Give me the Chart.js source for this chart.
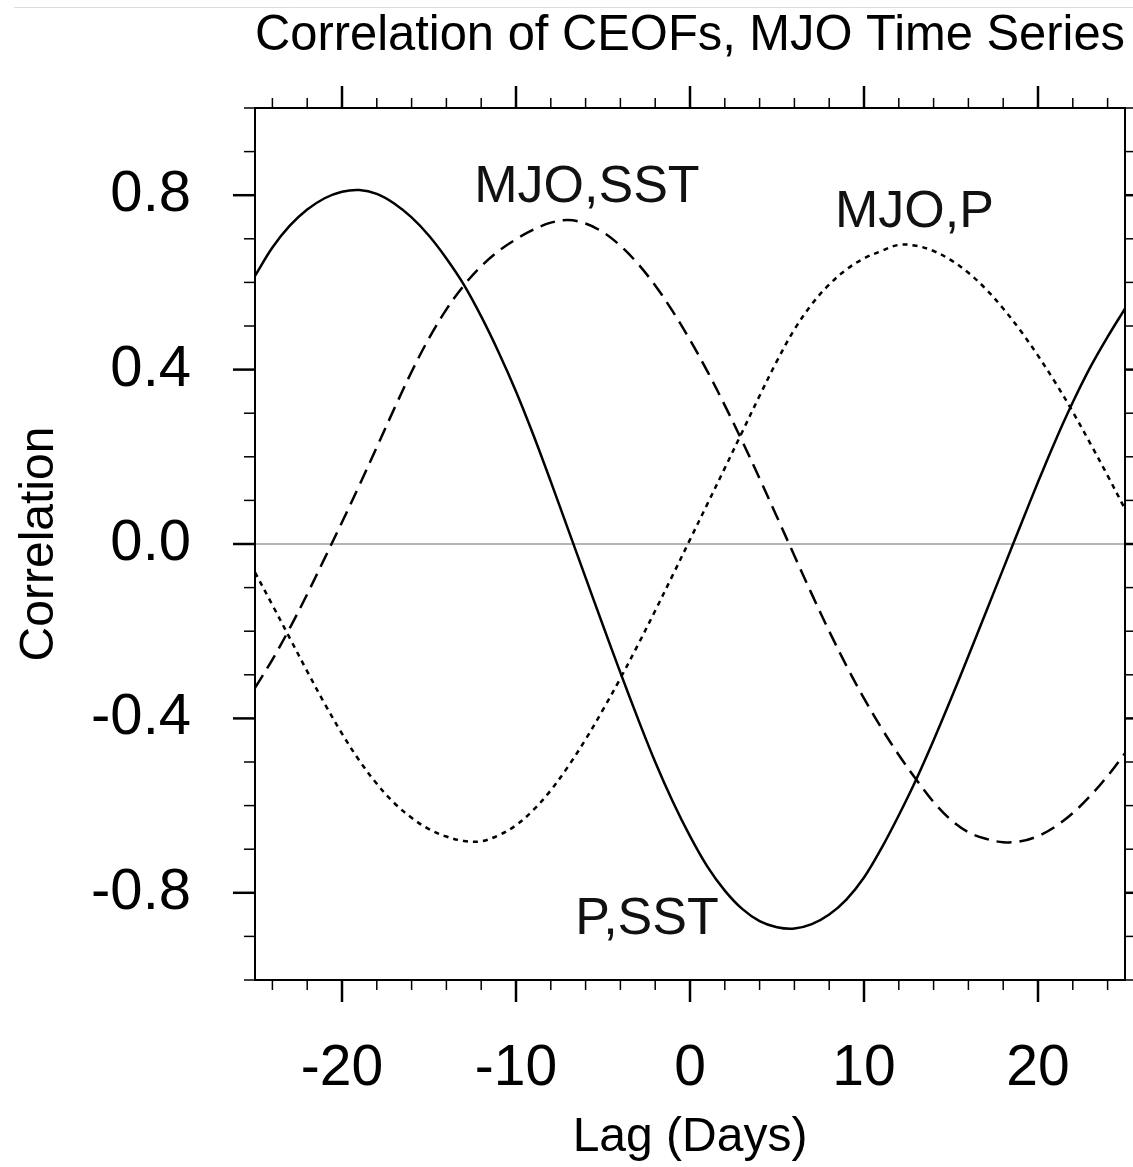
<!DOCTYPE html>
<html>
<head>
<meta charset="utf-8">
<title>Correlation of CEOFs, MJO Time Series</title>
<script src="https://cdn.jsdelivr.net/npm/chart.js@4.4.1/dist/chart.umd.min.js"></script>
<style>
  html, body { margin: 0; padding: 0; background: #fff; }
  #wrap { width: 1133px; height: 1167px; }
</style>
</head>
<body>
<div id="wrap"><canvas id="corr" width="1133" height="1167"></canvas></div>
<script>
// lag in days
const lags = [-25, -24, -23, -22, -21, -20, -19, -18, -17, -16, -15, -14, -13, -12, -11, -10, -9, -8, -7, -6, -5, -4, -3, -2, -1,
  0, 1, 2, 3, 4, 5, 6, 7, 8, 9, 10, 11, 12, 13, 14, 15, 16, 17, 18, 19, 20, 21, 22, 23, 24, 25];

// P,SST correlation (solid)
const pSst = [0.615, 0.68, 0.73, 0.767, 0.793, 0.808, 0.812, 0.803, 0.781, 0.749, 0.707, 0.655, 0.595, 0.522, 0.44, 0.35, 0.25, 0.143, 0.033, -0.077,
  -0.187, -0.295, -0.40, -0.50, -0.59, -0.67, -0.74, -0.795, -0.837, -0.865, -0.879, -0.882, -0.872, -0.85, -0.815, -0.765, -0.698, -0.622, -0.54, -0.45,
  -0.355, -0.257, -0.157, -0.057, 0.043, 0.142, 0.237, 0.325, 0.405, 0.475, 0.54];

// MJO,SST correlation (dashed)
const mjoSst = [-0.33, -0.265, -0.193, -0.115, -0.033, 0.05, 0.135, 0.222, 0.31, 0.395, 0.472, 0.538, 0.593, 0.637, 0.672, 0.699, 0.721, 0.737, 0.743, 0.735,
  0.715, 0.684, 0.643, 0.593, 0.534, 0.468, 0.396, 0.318, 0.236, 0.15, 0.062, -0.027, -0.115, -0.20, -0.28, -0.354, -0.422, -0.484, -0.54, -0.592,
  -0.633, -0.661, -0.676, -0.684, -0.682, -0.67, -0.648, -0.617, -0.578, -0.532, -0.48];

// MJO,P correlation (dotted)
const mjoP = [-0.065, -0.14, -0.216, -0.292, -0.366, -0.435, -0.497, -0.55, -0.594, -0.628, -0.654, -0.671, -0.681, -0.682, -0.668, -0.645, -0.61, -0.565, -0.51, -0.448,
  -0.38, -0.308, -0.232, -0.153, -0.072, 0.01, 0.092, 0.174, 0.257, 0.34, 0.42, 0.492, 0.55, 0.595, 0.63, 0.655, 0.672, 0.686, 0.684, 0.672,
  0.651, 0.622, 0.585, 0.54, 0.489, 0.432, 0.37, 0.303, 0.231, 0.157, 0.08];

const xTickLabels = [-20, -10, 0, 10, 20];
const yTickLabels = [-0.8, -0.4, 0, 0.4, 0.8];

// curve names written inside the plot
const curveLabels = [
  { text: 'MJO,SST', x: -12.4, y: 0.784 },
  { text: 'MJO,P', x: 8.33, y: 0.726 },
  { text: 'P,SST', x: -6.6, y: -0.894 }
];

const FONT = "'Liberation Sans', Arial, Helvetica, sans-serif";

function series(vals) {
  return lags.map((x, i) => ({ x: x, y: vals[i] }));
}

// box around the plot with outward major/minor ticks on every side
const frame = {
  id: 'frame',
  afterDatasetsDraw(chart) {
    const { ctx, chartArea: a, scales } = chart;
    const xs = scales.x, ys = scales.y;
    ctx.save();
    ctx.strokeStyle = '#000';
    ctx.lineCap = 'butt';

    const tick = (x1, y1, x2, y2, w) => {
      ctx.lineWidth = w;
      ctx.beginPath();
      ctx.moveTo(x1, y1);
      ctx.lineTo(x2, y2);
      ctx.stroke();
    };

    for (let v = -24; v <= 24; v += 2) {
      const major = v % 10 === 0;
      const px = xs.getPixelForValue(v);
      const len = major ? 22 : 10;
      const w = major ? 2.5 : 1.5;
      tick(px, a.bottom, px, a.bottom + len, w);
      tick(px, a.top, px, a.top - len, w);
    }
    for (let i = -10; i <= 10; i++) {
      const major = i % 4 === 0 && Math.abs(i) <= 8;
      const py = ys.getPixelForValue(i / 10);
      const len = major ? 22 : 11;
      const w = major ? 2.5 : 1.5;
      tick(a.left, py, a.left - len, py, w);
      tick(a.right, py, a.right + len, py, w);
    }

    ctx.lineWidth = 2;
    ctx.strokeRect(a.left, a.top, a.right - a.left, a.bottom - a.top);

    // faint page edge
    ctx.strokeStyle = '#dcdcdc';
    ctx.lineWidth = 1;
    ctx.beginPath();
    ctx.moveTo(14, 7.5);
    ctx.lineTo(chart.width, 7.5);
    ctx.stroke();
    ctx.restore();
  }
};

const curveNames = {
  id: 'curveNames',
  afterDatasetsDraw(chart) {
    const { ctx, scales } = chart;
    ctx.save();
    ctx.fillStyle = '#111';
    ctx.font = '52px ' + FONT;
    ctx.textAlign = 'left';
    ctx.textBaseline = 'alphabetic';
    curveLabels.forEach(l => {
      ctx.fillText(l.text, scales.x.getPixelForValue(l.x), scales.y.getPixelForValue(l.y));
    });
    ctx.restore();
  }
};

const lineBase = {
  borderColor: '#000',
  borderWidth: 2.5,
  pointRadius: 0,
  fill: false,
  tension: 0.35
};

new Chart(document.getElementById('corr'), {
  type: 'line',
  data: {
    datasets: [
      Object.assign({ label: 'P,SST', data: series(pSst) }, lineBase),
      Object.assign({ label: 'MJO,SST', data: series(mjoSst), borderDash: [15, 8] }, lineBase),
      Object.assign({ label: 'MJO,P', data: series(mjoP), borderDash: [5, 5] }, lineBase)
    ]
  },
  options: {
    responsive: false,
    animation: false,
    devicePixelRatio: 1,
    layout: { padding: { top: 0, right: 8, bottom: 0, left: 0 } },
    plugins: {
      legend: { display: false },
      tooltip: { enabled: false },
      title: {
        display: true,
        text: 'Correlation of CEOFs, MJO Time Series',
        fullSize: false,
        color: '#000',
        font: { family: FONT, size: 49.5, weight: 'normal', lineHeight: 1.2 },
        padding: { top: 7, bottom: 41.6 }
      }
    },
    scales: {
      x: {
        type: 'linear',
        min: -25,
        max: 25,
        afterFit: s => { s.height = 187; },
        afterBuildTicks: s => { s.ticks = xTickLabels.map(v => ({ value: v })); },
        grid: { display: false, drawTicks: false },
        border: { display: false },
        ticks: {
          padding: 55,
          color: '#000',
          maxRotation: 0,
          autoSkip: false,
          font: { family: FONT, size: 57 },
          callback: v => String(v)
        },
        title: {
          display: true,
          text: 'Lag (Days)',
          color: '#000',
          font: { family: FONT, size: 48, lineHeight: 1.2 },
          padding: { top: 0, bottom: 0 }
        }
      },
      y: {
        min: -1,
        max: 1,
        afterFit: s => { s.width = 255; },
        afterBuildTicks: s => { s.ticks = yTickLabels.map(v => ({ value: v })); },
        grid: {
          drawTicks: false,
          lineWidth: 2,
          color: c => (c.tick && c.tick.value === 0 ? '#b4b4b4' : 'rgba(0,0,0,0)')
        },
        border: { display: false },
        ticks: {
          padding: 64,
          color: '#000',
          font: { family: FONT, size: 58 },
          callback: v => v.toFixed(1)
        },
        title: {
          display: true,
          text: 'Correlation',
          color: '#000',
          font: { family: FONT, size: 48, lineHeight: 1.2 },
          padding: { top: 10.6, bottom: 0 }
        }
      }
    }
  },
  plugins: [frame, curveNames]
});
</script>
</body>
</html>
